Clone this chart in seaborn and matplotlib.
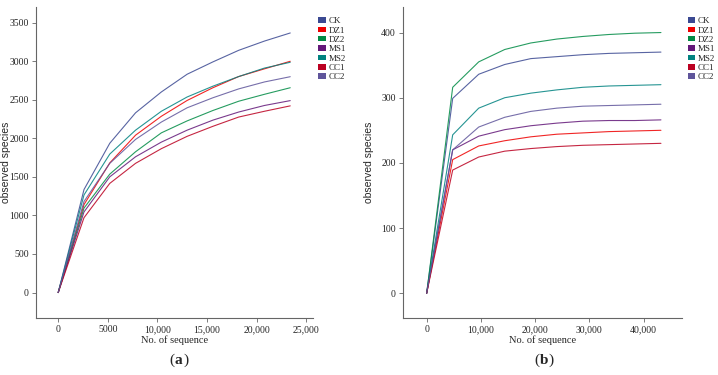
import numpy as np
import pandas as pd
import seaborn as sns
import matplotlib.pyplot as plt
from matplotlib.patches import Patch
from matplotlib.ticker import FuncFormatter

# samples and colours (ggsci AAAS palette)
samples = ['CK', 'DZ1', 'DZ2', 'MS1', 'MS2', 'CC1', 'CC2']
colors = ['#3B4992', '#EE0000', '#008B45', '#631879', '#008280', '#BB0021', '#5F559B']

# panel (a): rarefaction depth and observed species
depth_a = [0, 2600, 5200, 7800, 10400, 13000, 15600, 18200, 20800, 23400]
ck_a = [0, 1335, 1935, 2330, 2600, 2830, 2990, 3140, 3260, 3365]
dz1_a = [0, 1140, 1680, 2040, 2285, 2490, 2655, 2800, 2900, 2998]
dz2_a = [0, 1095, 1535, 1825, 2070, 2225, 2360, 2480, 2570, 2655]
ms1_a = [0, 1045, 1500, 1760, 1950, 2105, 2235, 2340, 2425, 2488]
ms2_a = [0, 1265, 1795, 2105, 2350, 2535, 2675, 2800, 2910, 2985]
cc1_a = [0, 970, 1415, 1675, 1865, 2025, 2155, 2275, 2350, 2420]
cc2_a = [0, 1180, 1675, 1985, 2210, 2395, 2525, 2640, 2730, 2798]

# panel (b)
depth_b = [0, 4800, 9600, 14400, 19200, 24000, 28800, 33600, 38400, 43200]
ck_b = [0, 299, 336, 351, 360, 363, 366, 368, 369, 370]
dz1_b = [0, 205, 226, 234, 240, 244, 246, 248, 249, 250]
dz2_b = [0, 316, 355, 374, 384, 390, 394, 397, 399, 400]
ms1_b = [0, 220, 241, 251, 257, 261, 264, 265, 265, 266]
ms2_b = [0, 243, 284, 300, 307, 312, 316, 318, 319, 320]
cc1_b = [0, 189, 209, 218, 222, 225, 227, 228, 229, 230]
cc2_b = [0, 220, 255, 270, 279, 284, 287, 288, 289, 290]


def to_long(depth, series):
    rows = []
    for name, vals in zip(samples, series):
        for d, v in zip(depth, vals):
            rows.append((name, d, v))
    return pd.DataFrame(rows, columns=['sample', 'depth', 'observed'])


df_a = to_long(depth_a, [ck_a, dz1_a, dz2_a, ms1_a, ms2_a, cc1_a, cc2_a])
df_b = to_long(depth_b, [ck_b, dz1_b, dz2_b, ms1_b, ms2_b, cc1_b, cc2_b])

sns.set_style('ticks')
plt.rcParams['font.family'] = ['Liberation Serif', 'DejaVu Serif']

fig = plt.figure(figsize=(7.18, 3.75), dpi=100)
ax_a = fig.add_axes([0.050, 0.152, 0.386, 0.829])
ax_b = fig.add_axes([0.561, 0.152, 0.389, 0.829])

palette = dict(zip(samples, colors))
thousands = FuncFormatter(lambda v, p: f'{int(v):,}' if v >= 10000 else f'{int(v)}')

panels = [
    (ax_a, df_a, (-2250, 25700), (-330, 3700), np.arange(0, 25001, 5000), np.arange(0, 3501, 500), 'a', 0.243, -0.09),
    (ax_b, df_b, (-4400, 47100), (-38, 439), np.arange(0, 40001, 10000), np.arange(0, 401, 100), 'b', 0.752, -0.104),
]

for ax, df, xlim, ylim, xt, yt, tag, tag_x, lab_x in panels:
    sns.lineplot(data=df, x='depth', y='observed', hue='sample', palette=palette,
                 hue_order=samples, linewidth=0.8, alpha=0.85, ax=ax, legend=False)
    ax.set_xlim(*xlim)
    ax.set_ylim(*ylim)
    ax.set_xticks(xt)
    ax.set_yticks(yt)
    ax.xaxis.set_major_formatter(thousands)
    sns.despine(ax=ax)
    for s in ['left', 'bottom']:
        ax.spines[s].set_color('#666666')
        ax.spines[s].set_linewidth(0.8)
    ax.tick_params(axis='both', labelsize=7, length=3, width=0.6, color='#666666', pad=2)
    ax.set_xlabel('No. of sequence', fontsize=7.5, labelpad=1)
    ax.set_ylabel('observed species', fontsize=7.5, family=['Liberation Sans', 'DejaVu Sans'])
    ax.yaxis.set_label_coords(lab_x, 0.5)
    handles = [Patch(facecolor=c, edgecolor='none', label=s) for s, c in zip(samples, colors)]
    ax.legend(handles=handles, loc='upper left', bbox_to_anchor=(1.0, 0.985), frameon=False,
              fontsize=6.5, handlelength=0.8, handleheight=0.55, handletextpad=0.3,
              labelspacing=0.15, borderaxespad=0.2)
    fig.text(tag_x, 0.03, '(', fontsize=11, ha='right', va='baseline')
    fig.text(tag_x, 0.03, tag, fontsize=11, fontweight='bold', ha='left', va='baseline')
    fig.text(tag_x + 0.012, 0.03, ')', fontsize=11, ha='left', va='baseline')

fig.savefig('out.png', dpi=100, facecolor='white')
